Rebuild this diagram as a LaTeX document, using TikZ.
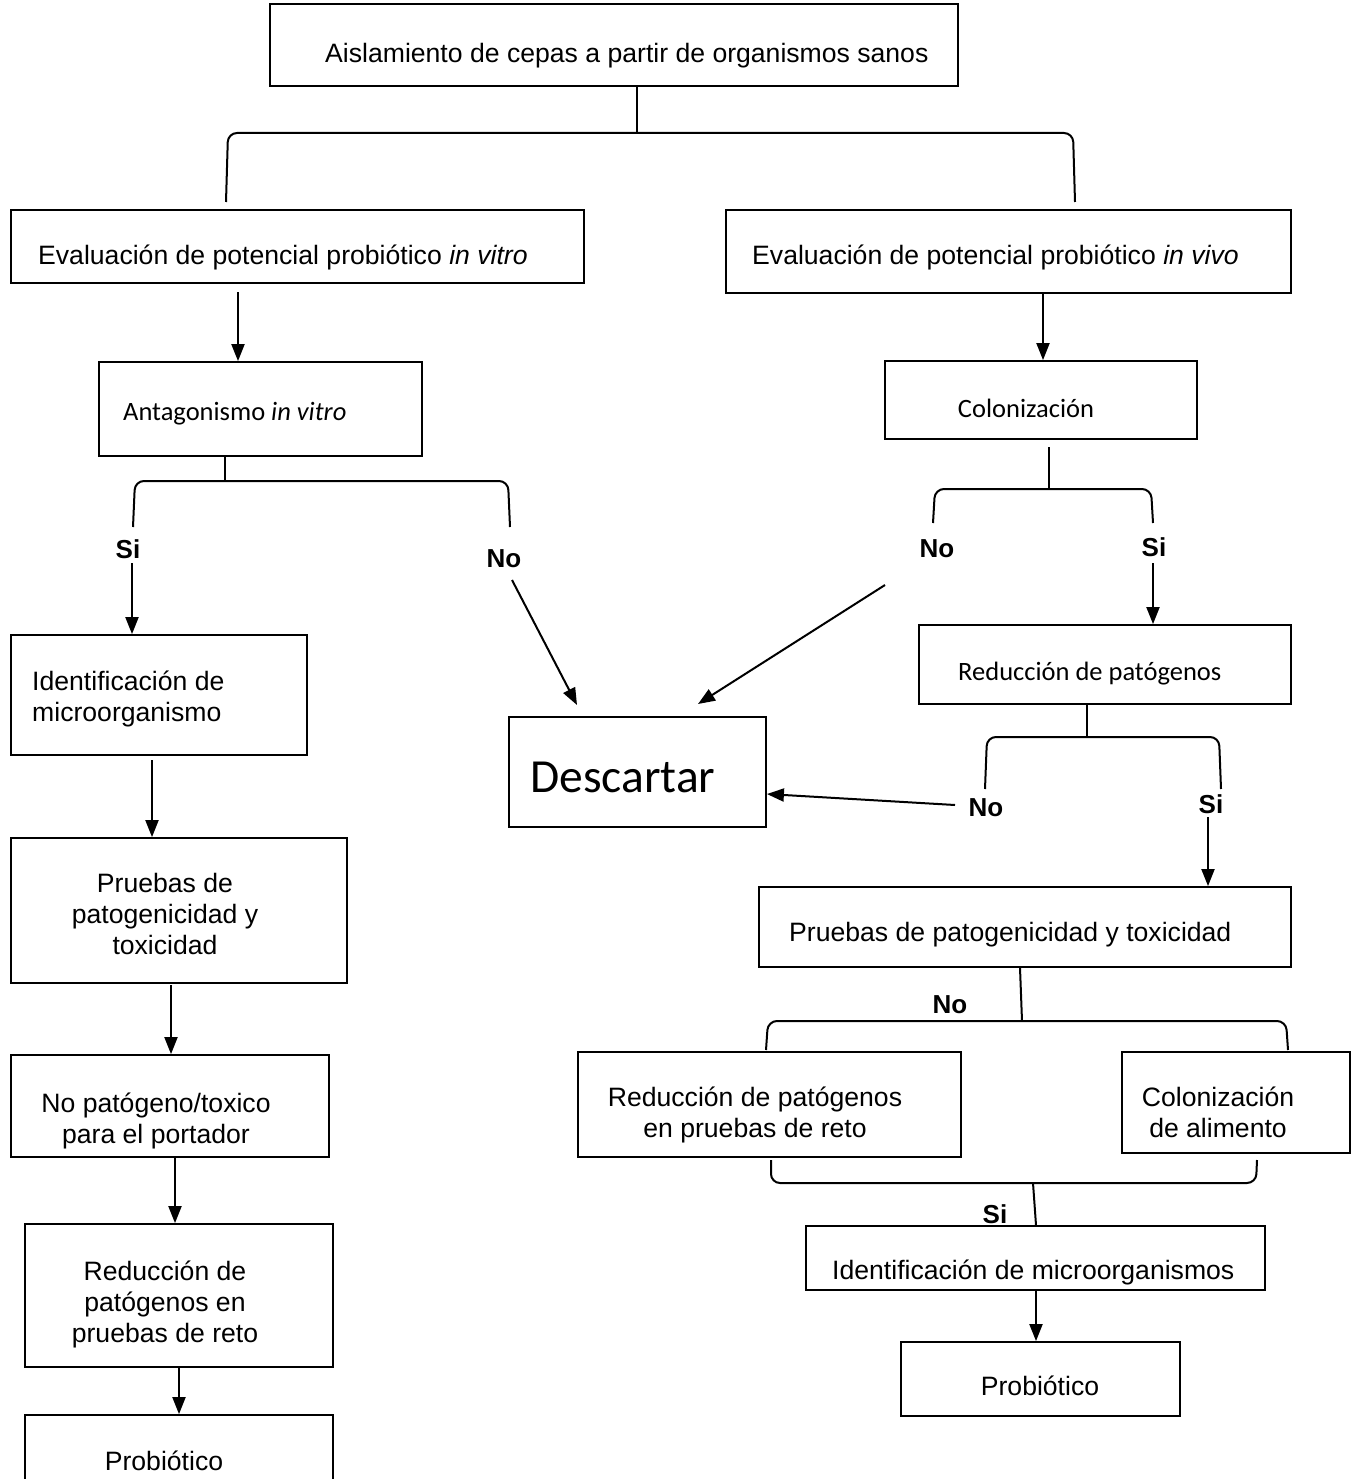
\documentclass[tikz,border=0pt]{standalone}
\usepackage{fontspec}
\setmainfont{Liberation Sans}
\newfontfamily\calfont{Carlito}
\usetikzlibrary{arrows.meta,fit}
\begin{document}
\begin{tikzpicture}[x=1pt,y=-1pt,
  box/.style={draw, line width=1.8pt, inner sep=0pt},
  ar/.style={line width=2pt, -{Triangle[width=13pt,length=17pt]}},
  ln/.style={line width=2pt},
  brk/.style={line width=2pt, rounded corners=9pt},
  tx/.style={font=\fontsize{26.6}{31}\selectfont, inner sep=0pt},
  cal/.style={font=\calfont\fontsize{26.5}{31}\selectfont, inner sep=0pt},
  big/.style={font=\calfont\fontsize{47.5}{56}\selectfont, inner sep=0pt},
  lab/.style={font=\bfseries\fontsize{26}{31}\selectfont, inner sep=0pt, anchor=base},
]
\path[use as bounding box, clip] (0,0) rectangle (1356,1479);

% ---------- top ----------
\node[box, fit={(270,4)(958,86)}] (b1) {};
\node[tx, anchor=base west] (t1) at (325,63) {Aislamiento de cepas a partir de organismos sanos};
\coordinate (j1) at (637,133);
\coordinate (j1l) at (226,202);
\coordinate (j1r) at (1075,202);
\draw[ln] (b1.south -| j1) -- (j1);
\draw[brk] (j1l) -- (228,133) -- (1073,133) -- (j1r);

% ---------- left branch ----------
\node[box, fit={(11,210)(584,283)}] (b2) {};
\node[tx, anchor=base west] (t2) at (38,264) {Evaluación de potencial probiótico \textit{in vitro}};
\node[box, fit={(99,362)(422,456)}] (b4) {};
\node[cal, anchor=base west] (t4) at (123,420) {Antagonismo \textit{in vitro}};
\coordinate (a1s) at (238,292);
\draw[ar] (a1s) -- (b4.north -| a1s);

\coordinate (j2) at (225,481);
\coordinate (j2l) at (133,527);
\coordinate (j2r) at (510,527);
\draw[ln] (b4.south -| j2) -- (j2);
\draw[brk] (j2l) -- (135,481) -- (508,481) -- (j2r);
\node[lab] (si1) at (128,558) {Si};
\node[lab] (no1) at (504,567) {No};

\node[box, fit={(11,635)(307,755)}] (b5) {};
\node[tx, anchor=base west, align=left] (t5) at (32,721) {Identificación de\\microorganismo};
\coordinate (a2s) at (132,563);
\draw[ar] (a2s) -- (b5.north -| a2s);

\node[box, fit={(509,717)(766,827)}] (b6) {};
\node[big, anchor=base west] (t6) at (530,792) {Descartar};
\coordinate (a3s) at (512,580);
\coordinate (a3e) at (577,705);
\draw[ar] (a3s) -- (a3e);

\node[box, fit={(11,838)(347,983)}] (b14) {};
\node[tx, anchor=base, align=center] (t14) at (165,954) {Pruebas de\\patogenicidad y\\toxicidad};
\coordinate (a10s) at (152,760);
\draw[ar] (a10s) -- (b14.north -| a10s);

\node[box, fit={(11,1055)(329,1157)}] (b15) {};
\node[tx, anchor=base, align=center] (t15) at (156,1143) {No patógeno/toxico\\para el portador};
\coordinate (a11s) at (171,985);
\draw[ar] (a11s) -- (b15.north -| a11s);

\node[box, fit={(25,1224)(333,1367)}] (b16) {};
\node[tx, anchor=base, align=center] (t16) at (165,1342) {Reducción de\\patógenos en\\pruebas de reto};
\coordinate (a12s) at (175,1158);
\draw[ar] (a12s) -- (b16.north -| a12s);

\node[box, fit={(25,1415)(333,1495)}] (b17) {};
\node[tx, anchor=base] (t17) at (164,1470) {Probiótico};
\coordinate (a13s) at (179,1368);
\draw[ar] (a13s) -- (b17.north -| a13s);

% ---------- right branch ----------
\node[box, fit={(726,210)(1291,293)}] (b3) {};
\node[tx, anchor=base west] (t3) at (752,264) {Evaluación de potencial probiótico \textit{in vivo}};
\node[box, fit={(885,361)(1197,439)}] (b7) {};
\node[cal, anchor=base] (t7) at (1026,417) {Colonización};
\coordinate (a4s) at (1043,294);
\draw[ar] (a4s) -- (b7.north -| a4s);

\coordinate (j3) at (1049,489);
\coordinate (j3l) at (933,523);
\coordinate (j3r) at (1153,523);
\draw[ln] (1049,447) -- (j3);
\draw[brk] (j3l) -- (935,489) -- (1151,489) -- (j3r);
\node[lab] (no2) at (937,557) {No};
\node[lab] (si2) at (1154,556) {Si};
\coordinate (a5s) at (885,585);
\coordinate (a5e) at (698,704);
\draw[ar] (a5s) -- (a5e);

\node[box, fit={(919,625)(1291,704)}] (b8) {};
\node[cal, anchor=base west] (t8) at (958,680) {Reducción de patógenos};
\coordinate (a6s) at (1153,563);
\draw[ar] (a6s) -- (b8.north -| a6s);

\coordinate (j4) at (1087,737);
\coordinate (j4l) at (985,789);
\coordinate (j4r) at (1221,789);
\draw[ln] (b8.south -| j4) -- (j4);
\draw[brk] (j4l) -- (987,737) -- (1219,737) -- (j4r);
\node[lab] (no3) at (986,816) {No};
\node[lab] (si3) at (1211,813) {Si};
\coordinate (a7s) at (955,805);
\draw[ar] (a7s) -- (b6.east |- 0,794);

\node[box, fit={(759,887)(1291,967)}] (b9) {};
\node[tx, anchor=base west] (t9) at (789,941) {Pruebas de patogenicidad y toxicidad};
\coordinate (a8s) at (1208,817);
\draw[ar] (a8s) -- (b9.north -| a8s);

\coordinate (j5) at (1022,1021);
\coordinate (j5l) at (766,1050);
\coordinate (j5r) at (1288,1050);
\draw[ln] (b9.south -| 1020,0) -- (j5);
\draw[brk] (j5l) -- (768,1021) -- (1286,1021) -- (j5r);
\node[lab] (no4) at (950,1013) {No};

\node[box, fit={(578,1052)(961,1157)}] (b10) {};
\node[tx, anchor=base, align=center] (t10) at (755,1137) {Reducción de patógenos\\en pruebas de reto};
\node[box, fit={(1122,1052)(1350,1153)}] (b11) {};
\node[tx, anchor=base, align=center] (t11) at (1218,1137) {Colonización\\de alimento};

\coordinate (j6) at (1033,1183);
\coordinate (j6l) at (771,1160);
\coordinate (j6r) at (1257,1160);
\draw[brk] (j6l) -- (771,1183) -- (1256,1183) -- (j6r);
\node[box, fit={(806,1226)(1265,1290)}] (b12) {};
\node[tx, anchor=base west] (t12) at (832,1279) {Identificación de microorganismos};
\draw[ln] (j6) -- (b12.north -| 1036,0);
\node[lab] (si4) at (995,1223) {Si};

\node[box, fit={(901,1342)(1180,1416)}] (b13) {};
\node[tx, anchor=base] (t13) at (1040,1395) {Probiótico};
\coordinate (a9s) at (1036,1291);
\draw[ar] (a9s) -- (b13.north -| a9s);
\end{tikzpicture}
\end{document}
